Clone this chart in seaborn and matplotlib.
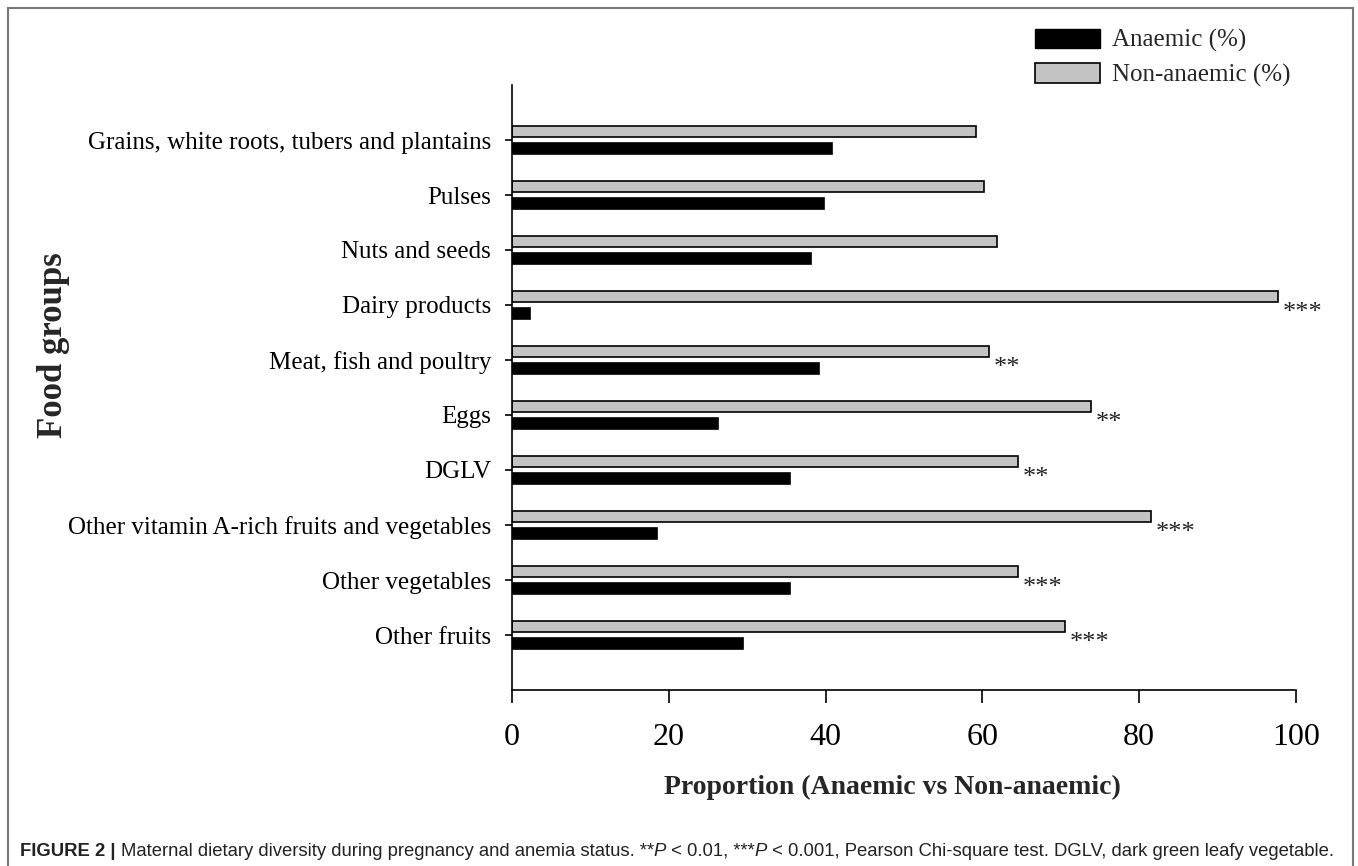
import numpy as np
import pandas as pd
import matplotlib
matplotlib.use('Agg')
import matplotlib.pyplot as plt
from matplotlib.patches import Rectangle, Patch
import seaborn as sns

food_groups = [
    'Grains, white roots, tubers and plantains',
    'Pulses',
    'Nuts and seeds',
    'Dairy products',
    'Meat, fish and poultry',
    'Eggs',
    'DGLV',
    'Other vitamin A-rich fruits and vegetables',
    'Other vegetables',
    'Other fruits',
]
anaemic = [40.8, 39.8, 38.1, 2.3, 39.2, 26.3, 35.5, 18.5, 35.5, 29.5]
non_anaemic = [59.2, 60.2, 61.9, 97.7, 60.8, 73.8, 64.5, 81.5, 64.5, 70.5]
stars = ['', '', '', '***', '**', '**', '**', '***', '***', '***']

df = pd.DataFrame({
    'group': food_groups * 2,
    'value': non_anaemic + anaemic,
    'status': ['Non-anaemic (%)'] * len(food_groups) + ['Anaemic (%)'] * len(food_groups),
})

sns.set_style('ticks')
plt.rcParams['font.family'] = ['Liberation Serif', 'DejaVu Serif']

fig = plt.figure(figsize=(13.58, 8.66), dpi=100)
ax = fig.add_axes([512 / 1358, 1 - 690 / 866, (1296 - 512) / 1358, (690 - 85) / 866])

sns.barplot(data=df, y='group', x='value', hue='status',
            hue_order=['Non-anaemic (%)', 'Anaemic (%)'],
            palette=['#c4c4c4', '#000000'], order=food_groups,
            width=0.62, gap=0.3, edgecolor='black', linewidth=1.2,
            errorbar=None, legend=False, ax=ax)

ax.set_xlim(0, 100)
ax.set_ylim(len(food_groups), -1)
ax.set_xticks(range(0, 101, 20))
ax.tick_params(axis='x', labelsize=23, length=9, width=1.2, pad=15, colors='black')
ax.tick_params(axis='y', labelsize=18, length=5, width=1.2, pad=10, colors='black')
for s in ['top', 'right']:
    ax.spines[s].set_visible(False)
for s in ['left', 'bottom']:
    ax.spines[s].set_linewidth(1.2)
    ax.spines[s].set_color('black')

ax.set_xlabel('Proportion (Anaemic vs Non-anaemic)', fontsize=20, fontweight='bold')
ax.xaxis.set_label_coords((892 - 512) / 784, -(775 - 690) / 605)
ax.set_ylabel('Food groups', fontsize=25, fontweight='bold')
ax.yaxis.set_label_coords((70 - 512) / 784, (690 - 345) / 605)

for i, (v, s) in enumerate(zip(non_anaemic, stars)):
    if s:
        ax.text(v + 0.6, i + 0.14, s, fontsize=19, ha='left', va='center', color='#222222')

handles = [Patch(facecolor='black', edgecolor='black'),
           Patch(facecolor='#c4c4c4', edgecolor='black', linewidth=1.2)]
fig.legend(handles, ['Anaemic (%)', 'Non-anaemic (%)'], loc='upper left',
           bbox_to_anchor=(1012 / 1358, 1 - 6 / 866), frameon=False, fontsize=18,
           handlelength=2.6, handleheight=0.8, handletextpad=0.5, labelspacing=0.45)

# figure frame
fig.patches.append(Rectangle((8 / 1358, -0.02), (1353 - 8) / 1358, 1.02 - 8 / 866,
                             transform=fig.transFigure, fill=False,
                             edgecolor='#777777', linewidth=1.5))

# caption
cap_font = ['Liberation Sans', 'DejaVu Sans']
pieces = [
    ('FIGURE 2 | ', 'bold', 'normal'),
    ('Maternal dietary diversity during pregnancy and anemia status. **', 'normal', 'normal'),
    ('P', 'normal', 'italic'),
    (' < 0.01, ***', 'normal', 'normal'),
    ('P', 'normal', 'italic'),
    (' < 0.001, Pearson Chi-square test. DGLV, dark green leafy vegetable.', 'normal', 'normal'),
]
prev = fig.text(20 / 1358, 1 - 856 / 866, pieces[0][0], fontsize=13.3, family=cap_font,
                fontweight=pieces[0][1], color='#222222', va='baseline')
for txt, w, st in pieces[1:]:
    prev = ax.annotate(txt, xy=(1, 0), xycoords=prev, va='bottom', ha='left', fontsize=13.3,
                       family=cap_font, fontweight=w, fontstyle=st, color='#222222',
                       annotation_clip=False)

fig.savefig('out.png', dpi=100)
